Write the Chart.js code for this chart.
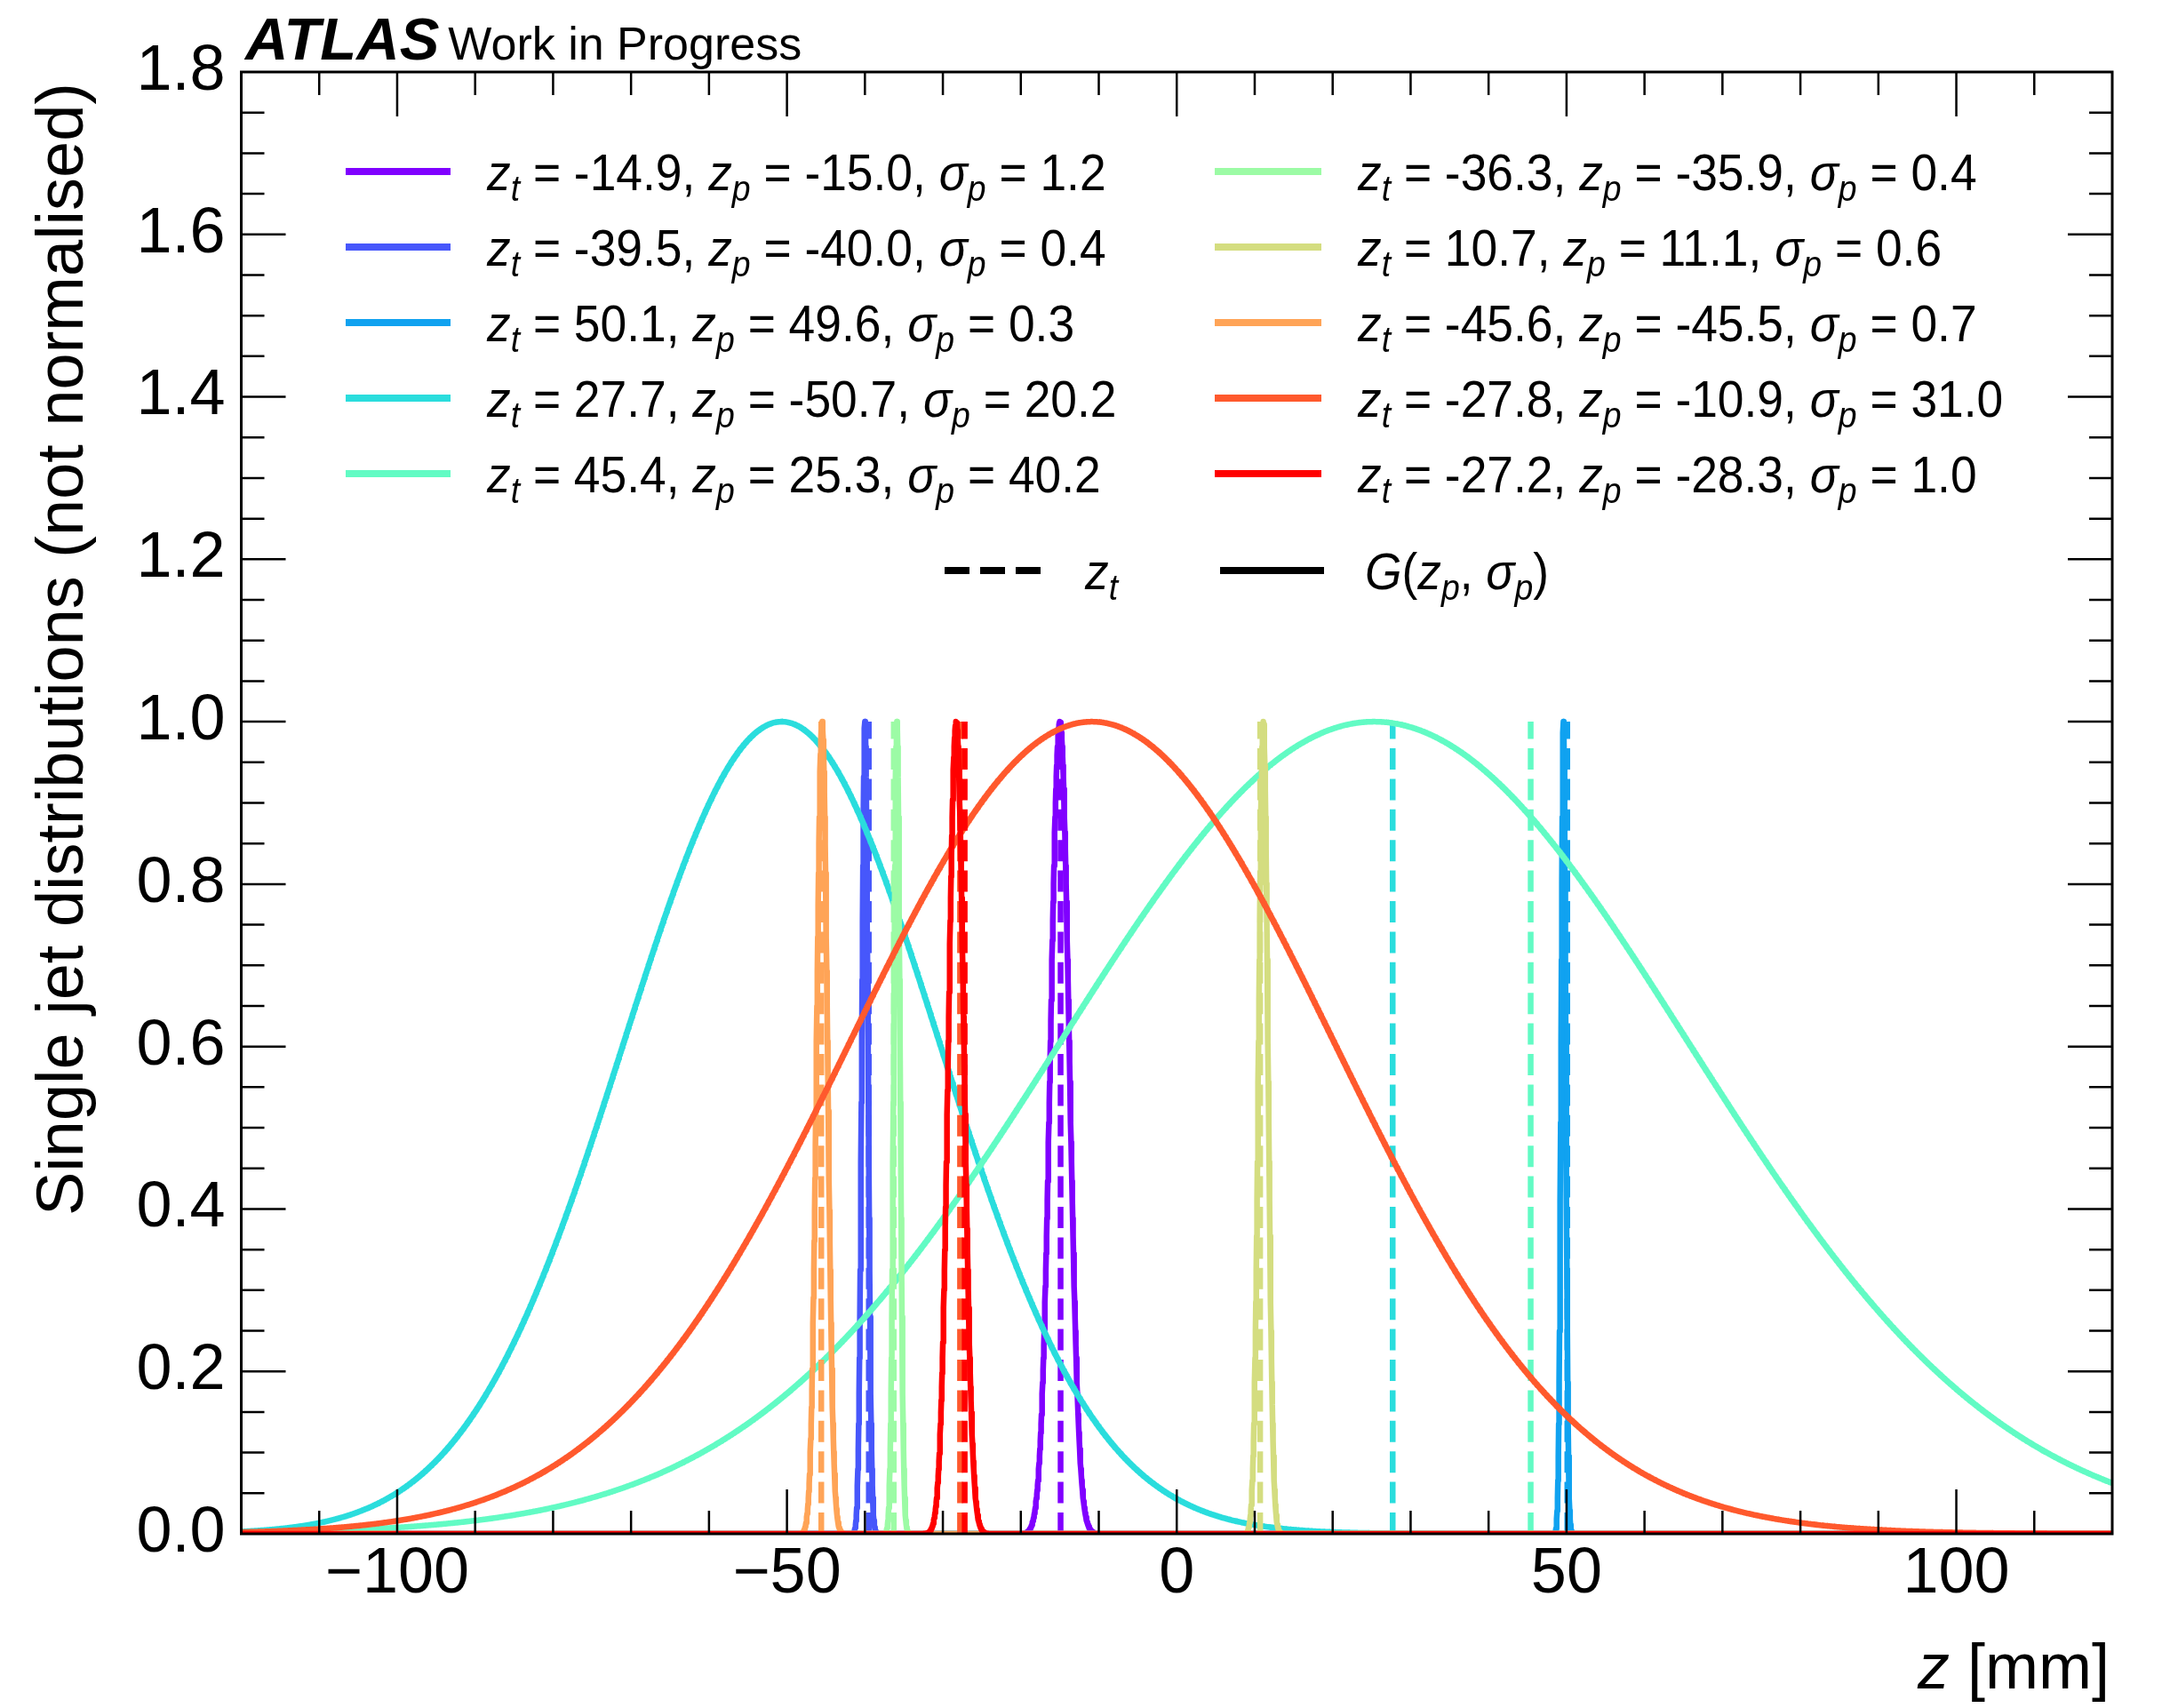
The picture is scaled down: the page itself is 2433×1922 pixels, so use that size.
<!DOCTYPE html>
<html>
<head>
<meta charset="utf-8">
<script src="https://cdn.jsdelivr.net/npm/chart.js@4.4.1/dist/chart.umd.min.js"></script>
<style>
  html, body { margin: 0; padding: 0; background: #fff; }
  #wrap { width: 2433px; height: 1922px; }
</style>
</head>
<body>
<div id="wrap"><canvas id="chart" width="2433" height="1922"></canvas></div>
<script>
// Per-jet vertex: true z, predicted z and predicted width (mm)
const zTrue = [-14.9, -39.5, 50.1, 27.7, 45.4, -36.3, 10.7, -45.6, -27.8, -27.2];
const zPred = [-15.0, -40.0, 49.6, -50.7, 25.3, -35.9, 11.1, -45.5, -10.9, -28.3];
const sigmaPred = [1.2, 0.4, 0.3, 20.2, 40.2, 0.4, 0.6, 0.7, 31.0, 1.0];

const xMajorTicks = [-100, -50, 0, 50, 100];
const yMajorTicks = [0, 0.2, 0.4, 0.6, 0.8, 1.0, 1.2, 1.4, 1.6, 1.8];

// rainbow colormap, 10 samples
const colours = ['#8000ff', '#4757fb', '#10a2f0', '#2adddd', '#62fbc4',
                 '#9cfba5', '#d4dd80', '#ffa457', '#ff592d', '#ff0000'];

const X_MIN = -120, X_MAX = 120, Y_MIN = 0, Y_MAX = 1.8;
const Z_STEP = 0.05;
const FONT = '"Liberation Sans", Arial, Helvetica, sans-serif';
const LW = 6.5;
const DASH = [24, 10.4];

function gauss(z, mu, s) {
    return Math.exp(-0.5 * ((z - mu) / s) * ((z - mu) / s));
}

const datasets = [];
zTrue.forEach((zt, i) => {
    const pts = [];
    const n = Math.round((X_MAX - X_MIN) / Z_STEP);
    for (let k = 0; k <= n; k++) {
        const z = X_MIN + k * Z_STEP;
        pts.push({ x: z, y: gauss(z, zPred[i], sigmaPred[i]) });
    }
    // later jets sit on top of earlier ones
    datasets.push({
        data: pts, borderColor: colours[i], borderWidth: LW, borderJoinStyle: 'round',
        pointRadius: 0, tension: 0, order: 100 - 2 * i
    });
    datasets.push({
        data: [{ x: zt, y: 0 }, { x: zt, y: 1 }], borderColor: colours[i],
        borderWidth: LW, borderDash: DASH, pointRadius: 0, order: 99 - 2 * i
    });
});

// draw a run of text pieces, some italic, some subscript; hs squeezes horizontally
function richWidth(ctx, runs, size) {
    let w = 0;
    runs.forEach(r => {
        const s = r.sub ? size * 0.7 : size;
        ctx.font = (r.it ? 'italic ' : '') + s + 'px ' + FONT;
        w += ctx.measureText(r.t).width;
    });
    return w;
}
function drawRich(ctx, x, y, runs, size, align, hs) {
    hs = hs || 1;
    if (align === 'right') x -= richWidth(ctx, runs, size) * hs;
    ctx.save();
    ctx.translate(x, y);
    ctx.scale(hs, 1);
    ctx.textAlign = 'left';
    ctx.textBaseline = 'alphabetic';
    let cx = 0;
    runs.forEach(r => {
        const s = r.sub ? size * 0.7 : size;
        ctx.font = (r.it ? 'italic ' : '') + s + 'px ' + FONT;
        ctx.fillText(r.t, cx, r.sub ? size * 0.2 : 0);
        cx += ctx.measureText(r.t).width;
    });
    ctx.restore();
}

function jetLabel(i) {
    const f = v => v.toFixed(1);
    return [
        { t: 'z', it: 1 }, { t: 't', it: 1, sub: 1 }, { t: ' = ' + f(zTrue[i]) + ', ' },
        { t: 'z', it: 1 }, { t: 'p', it: 1, sub: 1 }, { t: ' = ' + f(zPred[i]) + ', ' },
        { t: '\u03c3', it: 1 }, { t: 'p', it: 1, sub: 1 }, { t: ' = ' + f(sigmaPred[i]) }
    ];
}

const decorations = {
    id: 'decorations',
    afterDraw(chart) {
        const ctx = chart.ctx;
        const a = chart.chartArea;
        const xs = chart.scales.x, ys = chart.scales.y;
        ctx.save();
        ctx.strokeStyle = '#000';
        ctx.fillStyle = '#000';

        // inward ticks on all four sides
        const MAJ = 50, MIN = 26;
        ctx.lineWidth = 2.5;
        ctx.beginPath();
        for (let v = -110; v <= 110; v += 10) {
            const px = xs.getPixelForValue(v);
            const len = xMajorTicks.includes(v) ? MAJ : MIN;
            ctx.moveTo(px, a.bottom); ctx.lineTo(px, a.bottom - len);
            ctx.moveTo(px, a.top); ctx.lineTo(px, a.top + len);
        }
        for (let k = 1; k < 36; k++) {
            const v = k * 0.05;
            const py = ys.getPixelForValue(v);
            const len = (k % 4 === 0) ? MAJ : MIN;
            ctx.moveTo(a.left, py); ctx.lineTo(a.left + len, py);
            ctx.moveTo(a.right, py); ctx.lineTo(a.right - len, py);
        }
        ctx.stroke();
        ctx.lineWidth = 3;
        ctx.strokeRect(a.left, a.top, a.right - a.left, a.bottom - a.top);

        // legend: two columns of jets
        const rowY = [193, 278, 363, 448, 533];
        const cols = [{ x0: 389, x1: 507, tx: 548 }, { x0: 1367, x1: 1487, tx: 1528 }];
        const LS = 58, SQ = 0.92;
        zTrue.forEach((_, i) => {
            const c = cols[Math.floor(i / 5)];
            const y = rowY[i % 5];
            ctx.strokeStyle = colours[i];
            ctx.lineWidth = 8;
            ctx.setLineDash([]);
            ctx.beginPath(); ctx.moveTo(c.x0, y); ctx.lineTo(c.x1, y); ctx.stroke();
            ctx.fillStyle = '#000';
            drawRich(ctx, c.tx, y + 21, jetLabel(i), LS, 'left', SQ);
        });

        // legend: line styles
        const sy = 642;
        ctx.strokeStyle = '#000';
        ctx.lineWidth = 8;
        ctx.setLineDash([28, 12]);
        ctx.beginPath(); ctx.moveTo(1063, sy); ctx.lineTo(1171, sy); ctx.stroke();
        ctx.setLineDash([]);
        ctx.beginPath(); ctx.moveTo(1373, sy); ctx.lineTo(1490, sy); ctx.stroke();
        drawRich(ctx, 1221, sy + 21, [{ t: 'z', it: 1 }, { t: 't', it: 1, sub: 1 }], LS, 'left', SQ);
        drawRich(ctx, 1536, sy + 21, [
            { t: 'G', it: 1 }, { t: '(' }, { t: 'z', it: 1 }, { t: 'p', it: 1, sub: 1 },
            { t: ', ' }, { t: '\u03c3', it: 1 }, { t: 'p', it: 1, sub: 1 }, { t: ')' }
        ], LS, 'left', SQ);

        // axis titles
        drawRich(ctx, 2374, 1900, [{ t: 'z', it: 1 }, { t: ' [mm]' }], 72, 'right');
        ctx.save();
        ctx.translate(93, 93);
        ctx.rotate(-Math.PI / 2);
        ctx.font = '74px ' + FONT;
        ctx.textAlign = 'right';
        ctx.textBaseline = 'alphabetic';
        ctx.fillText('Single jet distributions (not normalised)', 0, 0);
        ctx.restore();

        // experiment label
        ctx.textAlign = 'left';
        ctx.textBaseline = 'alphabetic';
        ctx.font = 'italic bold 67px ' + FONT;
        ctx.fillText('ATLAS', 276, 67);
        const w = ctx.measureText('ATLAS').width;
        ctx.font = '52px ' + FONT;
        ctx.fillText('Work in Progress', 276 + w + 10, 67);
        ctx.restore();
    }
};

new Chart(document.getElementById('chart'), {
    type: 'line',
    data: { datasets },
    plugins: [decorations],
    options: {
        responsive: false,
        animation: false,
        parsing: false,
        normalized: true,
        events: [],
        layout: { padding: { left: 0, top: 81, right: 56, bottom: 0 } },
        plugins: { legend: { display: false }, tooltip: { enabled: false } },
        scales: {
            x: {
                type: 'linear', min: X_MIN, max: X_MAX,
                grid: { display: false }, border: { display: false },
                afterFit: s => { s.height = 196; },
                afterBuildTicks: s => { s.ticks = xMajorTicks.map(v => ({ value: v })); },
                ticks: {
                    padding: -5, color: '#000', maxRotation: 0,
                    font: { family: FONT, size: 72 },
                    callback: v => v < 0 ? '\u2212' + Math.abs(v) : String(v)
                }
            },
            y: {
                type: 'linear', min: Y_MIN, max: Y_MAX,
                grid: { display: false }, border: { display: false },
                afterFit: s => { s.width = 271.5; },
                afterBuildTicks: s => { s.ticks = yMajorTicks.map(v => ({ value: v })); },
                ticks: {
                    padding: 10, color: '#000',
                    font: { family: FONT, size: 72 },
                    callback: v => v.toFixed(1)
                }
            }
        }
    }
});
</script>
</body>
</html>
